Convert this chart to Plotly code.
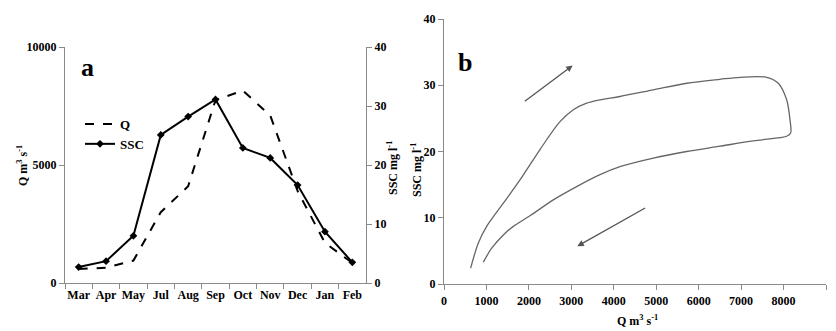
import plotly.graph_objects as go

# ---- data: panel a ----
months = ["Mar", "Apr", "May", "Jul", "Aug", "Sep", "Oct", "Nov", "Dec", "Jan", "Feb"]
q_flow = [590, 650, 950, 3000, 4100, 7750, 8150, 7100, 3900, 1700, 850]
ssc = [2.7, 3.7, 8.0, 25.1, 28.2, 31.1, 22.9, 21.2, 16.6, 8.7, 3.5]
q_ticks = [0, 5000, 10000]
q_ticktext = ["0", "5000", "10000"]

# ---- data: panel b (hysteresis loop) ----
loop_q = [628, 809, 1005, 1398, 1790, 2262, 2733, 3047, 3361, 3675, 4146, 4932, 5717,
          6502, 6974, 7602, 7877, 8073, 8151, 8167, 8073, 7916, 7288, 6502,
          5717, 4932, 4146, 3675, 3126, 2576, 2026, 1633, 1398, 1123, 927]
loop_ssc = [2.4, 6.2, 8.7, 12.2, 15.7, 20.3, 24.5, 26.3, 27.3, 27.8, 28.3, 29.3, 30.3,
            30.9, 31.2, 31.2, 30.3, 27.8, 24.8, 22.8, 22.3, 22.1, 21.6, 20.8,
            20.0, 19.0, 17.7, 16.5, 14.7, 12.7, 10.3, 8.7, 7.4, 5.4, 3.3]

# page body has an 8px default margin; the figure fills the rest of the window
OFF = 8
W, H = 836 - OFF, 331 - OFF
def px_x(p): return (p - OFF) / W
def px_y(p): return 1 - (p - OFF) / H

AX = "#8a8a8a"
FONT = "Liberation Serif, Times New Roman, serif"

fig = go.Figure()
fig.add_trace(go.Scatter(x=months, y=q_flow, name="Q", mode="lines",
                         line=dict(color="black", width=2, dash="dash"),
                         xaxis="x", yaxis="y"))
fig.add_trace(go.Scatter(x=months, y=ssc, name="SSC", mode="lines+markers",
                         line=dict(color="black", width=2),
                         marker=dict(symbol="diamond", size=6, color="black"),
                         xaxis="x", yaxis="y2"))
fig.add_trace(go.Scatter(x=loop_q, y=loop_ssc, mode="lines", showlegend=False,
                         line=dict(color="#666666", width=1.3, shape="spline", smoothing=0.9),
                         xaxis="x2", yaxis="y3"))

common = dict(showgrid=False, zeroline=False, showline=True, linecolor=AX, linewidth=1.2,
              ticks="outside", tickcolor=AX, ticklen=5, tickangle=0, automargin=False,
              tickfont=dict(family=FONT, size=12, color="black", weight="bold"))

fig.update_layout(
    width=W, height=H, margin=dict(l=0, r=0, t=0, b=0, autoexpand=False),
    paper_bgcolor="white", plot_bgcolor="white",
    font=dict(family=FONT, size=12, color="black", weight="bold"),
    xaxis=dict(domain=[px_x(65), px_x(366)], type="category", range=[-0.5, 10.5],
               tickson="boundaries", anchor="y", **common),
    yaxis=dict(domain=[px_y(283), px_y(47)], range=[0, 10000],
               tickvals=q_ticks, ticktext=q_ticktext, anchor="x", **common),
    yaxis2=dict(overlaying="y", side="right", anchor="x", range=[0, 40],
                tickvals=[0, 10, 20, 30, 40], **common),
    xaxis2=dict(domain=[px_x(444), px_x(826)], range=[0, 9000], dtick=1000,
                anchor="y3", **common),
    yaxis3=dict(domain=[px_y(284), px_y(19)], range=[0, 40], dtick=10,
                anchor="x2", **common),
    legend=dict(x=px_x(80), y=px_y(109), xanchor="left", yanchor="top",
                bgcolor="rgba(0,0,0,0)", tracegroupgap=0,
                font=dict(family=FONT, size=13, weight="bold")),
)

ann = [
    dict(text="a", x=px_x(87), y=px_y(67), size=26),
    dict(text="b", x=px_x(465), y=px_y(63), size=26),
    dict(text="Q m<sup>3</sup> s<sup>-1</sup>", x=px_x(22), y=px_y(165), angle=-90),
    dict(text="SSC mg l<sup>-1</sup>", x=px_x(393), y=px_y(168), angle=-90),
    dict(text="SSC mg l<sup>-1</sup>", x=px_x(416), y=px_y(170), angle=-90),
    dict(text="Q m<sup>3</sup> s<sup>-1</sup>", x=px_x(637), y=px_y(320)),
]
for a in ann:
    fig.add_annotation(xref="paper", yref="paper", showarrow=False,
                       xanchor="center", yanchor="middle",
                       text=a["text"], x=a["x"], y=a["y"],
                       textangle=a.get("angle", 0),
                       font=dict(family=FONT, size=a.get("size", 12),
                                 color="black", weight="bold"))

# arrows in panel b
for (hx, hy, tx, ty) in [(3031, 33.0, 1869, 27.4), (3141, 5.7, 4775, 11.6)]:
    fig.add_annotation(x=hx, y=hy, ax=tx, ay=ty, xref="x2", yref="y3",
                       axref="x2", ayref="y3", showarrow=True, text="",
                       arrowhead=2, arrowsize=1, arrowwidth=1.3, arrowcolor="#555555")

fig.write_html("out.html")
